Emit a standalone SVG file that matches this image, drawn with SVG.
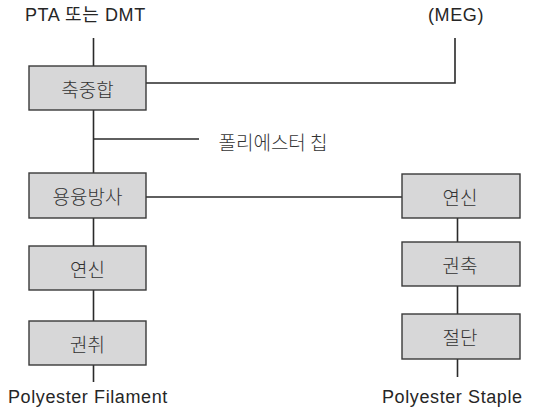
<svg xmlns="http://www.w3.org/2000/svg" width="536" height="413" viewBox="0 0 536 413">
<style>
.box{fill:#d7d7d8;stroke:#3a3a3a;stroke-width:1.4}
.ln{fill:none;stroke:#2a2a2a;stroke-width:1.6}
.t{font-family:"Liberation Sans","Noto Sans CJK KR",sans-serif;font-size:18px;fill:#262626;letter-spacing:0.6px}
.k{font-family:"Noto Sans CJK KR","Liberation Sans",sans-serif;font-size:19px;font-weight:300;fill:#333;text-anchor:middle;dominant-baseline:central}
</style>
<rect width="536" height="413" fill="#fff"/>
<g id="connectors">
<path class="ln" d="M93.5 38V66"/>
<path class="ln" d="M146 83H455V38"/>
<path class="ln" d="M93.5 110V173"/>
<path class="ln" d="M93.5 139H199"/>
<path class="ln" d="M146 197H402"/>
<path class="ln" d="M93.5 218V246"/>
<path class="ln" d="M93.5 290V321"/>
<path class="ln" d="M93.5 365V382"/>
<path class="ln" d="M457.5 218V242"/>
<path class="ln" d="M457.5 286V314"/>
<path class="ln" d="M457.5 359V377"/>
</g>
<g id="label-pta"><text class="t" x="25" y="21">PTA 또는 DMT</text></g>
<g id="label-meg"><text class="t" x="428" y="21">(MEG)</text></g>
<g id="label-chip"><text class="k" x="273" y="141">폴리에스터 칩</text></g>
<g id="n1"><rect class="box" x="29" y="66" width="117" height="44"/><text class="k" x="87.5" y="88">축중합</text></g>
<g id="n2"><rect class="box" x="29" y="173" width="117" height="45"/><text class="k" x="87.5" y="195.5">용융방사</text></g>
<g id="n3"><rect class="box" x="29" y="246" width="117" height="44"/><text class="k" x="87.5" y="268">연신</text></g>
<g id="n4"><rect class="box" x="29" y="321" width="117" height="44"/><text class="k" x="87.5" y="343">권취</text></g>
<g id="n5"><rect class="box" x="402" y="174" width="118" height="44"/><text class="k" x="460" y="196">연신</text></g>
<g id="n6"><rect class="box" x="402" y="242" width="118" height="44"/><text class="k" x="460" y="264">권축</text></g>
<g id="n7"><rect class="box" x="402" y="314" width="118" height="45"/><text class="k" x="460" y="336.5">절단</text></g>
<g id="label-filament"><text class="t" x="8" y="403">Polyester Filament</text></g>
<g id="label-staple"><text class="t" x="382" y="403">Polyester Staple</text></g>
</svg>
